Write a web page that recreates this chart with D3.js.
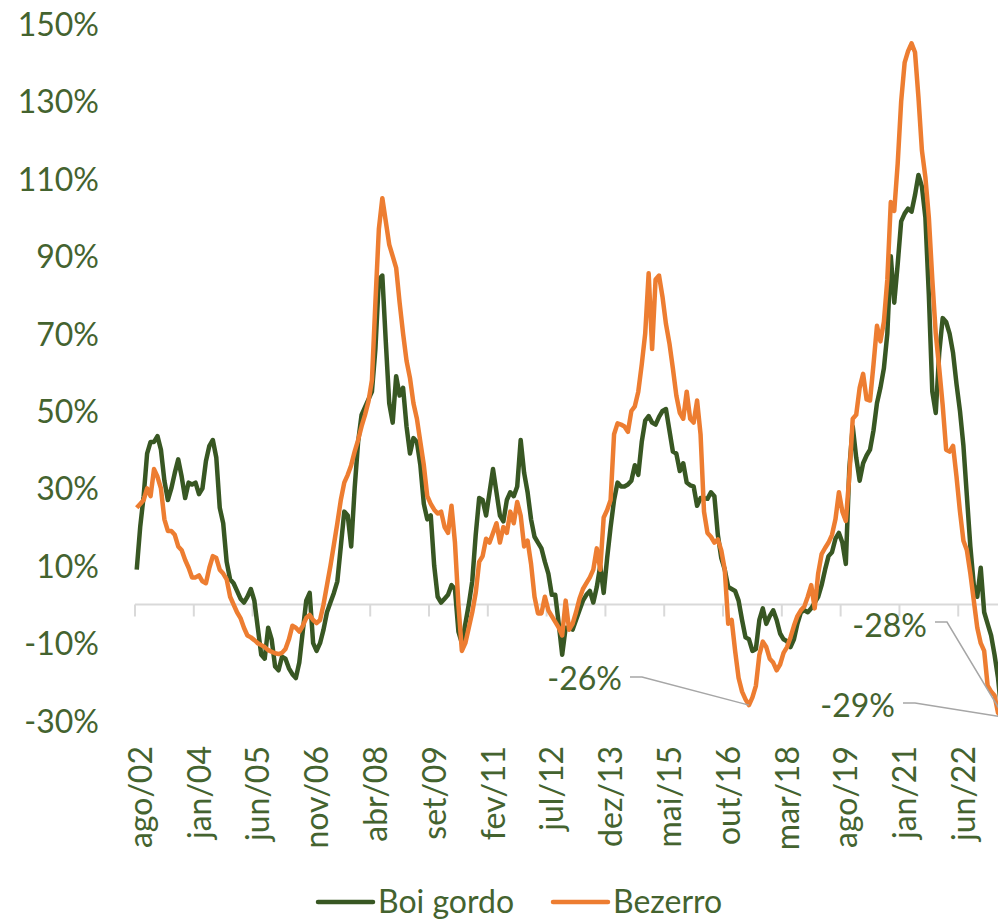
<!DOCTYPE html>
<html>
<head>
<meta charset="utf-8">
<script src="https://cdn.jsdelivr.net/npm/d3@7"></script>
<style>
  body { margin: 0; background: #fff; }
  svg { display: block; font-family: Lato, "Open Sans", sans-serif; }
</style>
</head>
<body>
<div id="chart"></div>
<script>
// monthly % change, ago/02 .. jun/23
const monthNames = ['jan','fev','mar','abr','mai','jun','jul','ago','set','out','nov','dez'];
const tickLabels = ['ago/02','jan/04','jun/05','nov/06','abr/08','set/09','fev/11','jul/12',
                    'dez/13','mai/15','out/16','mar/18','ago/19','jan/21','jun/22'];
const yTicks = [-30, -10, 10, 30, 50, 70, 90, 110, 130, 150];

const boiGordo = [
  9, 20, 28, 39, 42, 42, 43.5, 40, 32, 27,
  30, 34, 37.5, 33, 27.5, 31.5, 31, 31.5, 28.5, 30,
  37, 41, 42.5, 38, 25, 21, 11, 6.5, 5.5, 3.5,
  1.5, 0.5, 2, 4, 1, -6, -13, -14, -6, -9,
  -16, -17, -13.5, -14, -16.5, -18, -19, -15, -7, 1,
  3, -10, -12, -10, -6.5, -2, 0.5, 3, 6, 15,
  24, 23, 15, 30, 42, 49, 51, 53, 55, 66,
  84, 85, 68, 52, 47, 59, 54, 56, 46, 39,
  43, 42, 36, 26, 22, 23, 10, 2, 0.5, 1.5,
  2.5, 5, 4, -7, -10, -5, 0, 6, 18, 27.5,
  27, 23, 29, 35, 29, 23, 21.5, 27, 29, 28,
  30.5, 42.5, 34, 29, 22, 17.5, 16, 14.5, 11, 8,
  2.5, 2.5, -5, -13, -6, -6, -6.5, -4, -1.5, 1,
  2.5, 3.5, 0.5, 4.5, 10, 3, 12, 20, 27, 31.5,
  30.5, 30.5, 31, 32, 36, 33.5, 42, 47.5, 48.7, 47,
  46.5, 48.5, 50, 50.5, 45, 39.5, 39, 34.5, 36.5, 31.5,
  30.8, 30.5, 25.5, 27.5, 27.5, 27.3, 29, 28, 18, 12,
  9, 4.5, 4, 3.5, 1, -4, -8.5, -9, -12, -11.5,
  -4, -1, -5, -3, -1.5, -4, -7.5, -9, -9.5, -11,
  -9, -5, -2, -1.5, -2, -1, 0.5, 2, 5, 9,
  12.5, 13.5, 17, 18.5, 16, 10.5, 35, 46, 38, 32,
  36.5, 38.5, 40, 45, 52, 56, 61, 70, 90, 78,
  88, 99, 101, 102.3, 101.5, 105.8, 111, 108, 100, 80,
  55, 49.5, 65, 74, 73, 70, 65, 57, 50, 41,
  28, 15, 5, 2, 9.5, -2, -5, -8, -13, -19,
  -28
];

const bezerro = [
  25, 26, 27, 30, 28, 35, 33, 30, 22, 19,
  19, 18, 15, 14, 11.5, 9.5, 7, 7, 7.5, 6,
  5.5, 9.5, 12.5, 12, 9, 8, 6.5, 2, 0, -2,
  -3.5, -6, -8, -8.5, -9.2, -10, -10.5, -11, -11.8, -12.2,
  -12.6, -12.8, -12.5, -11.5, -9, -5.5, -6, -7, -5.5, -3.5,
  -2.7, -4, -4.8, -4, 0, 5, 10, 15.5, 21, 27,
  31.5, 33.5, 36, 39.5, 42.5, 46, 49, 52.5, 58, 78,
  97, 105, 99, 93, 90, 87, 78, 70, 63, 58.5,
  52, 48, 42, 36, 28, 26, 24.5, 23.5, 24, 20,
  18.5, 25.5, 16, 0, -12, -10, -6, -2, 3, 11,
  12.5, 17, 16, 18.5, 21, 16, 20, 18.5, 24, 21,
  26.5, 23, 15, 16.5, 10.5, 2, -2.3, -2.3, 2, -1.5,
  -3, -4.5, -6, -8, 1, -6.5, -5, -2, 1.5, 4,
  5.5, 7, 9, 14.5, 9, 22.5, 24.4, 27, 44, 46.8,
  46.5, 46, 44.6, 50, 51.2, 55, 62, 70, 85.6, 66,
  84, 85, 79.5, 72.5, 67.5, 61, 54, 49.5, 48, 55,
  48, 47, 52.7, 44, 24, 18.5, 17.5, 16, 16.8, 14,
  9, -5, -4, -12, -19, -22.5, -24.5, -26, -24, -21,
  -13, -9.6, -11, -14, -15, -17, -15.5, -12.5, -11, -8.5,
  -5.5, -3, -1.5, -0.5, 2, 5, -1, 8, 13, 14.6,
  16, 18, 22, 29, 24, 21.6, 33, 48, 49, 56,
  59.6, 53, 52.7, 62, 72, 68, 73, 84, 104, 101.7,
  114, 130, 140, 143, 145, 142.7, 131, 117.3, 110.4, 100,
  84, 70, 61, 51.5, 40, 39.5, 41, 33, 24, 16.5,
  14, 8, 1, -6, -10, -12, -21, -22.5, -23.5, -28,
  -29
];

// data labels: [series, month index, text, text x, text baseline y]
const annotations = [
  {series: 'bezerro', idx: 177, text: '-26%', tx: 622, ty: 690, lx: 630, ly: 677},
  {series: 'boi', idx: 250, text: '-28%', tx: 927, ty: 637, lx: 935, ly: 622},
  {series: 'bezerro', idx: 250, text: '-29%', tx: 895, ty: 717, lx: 903, ly: 703}
];

// category labels, ago/02 onwards
const months = [];
for (let k = 0; k < boiGordo.length; k++) {
    let m = (7 + k) % 12, yr = 2002 + Math.floor((7 + k) / 12);
    months.push(monthNames[m] + '/' + String(yr % 100).padStart(2, '0'));
}

const width = 998, height = 922;
const textColor = '#44632f', green = '#385723', orange = '#ed7d31';

const svg = d3.select('#chart').append('svg')
    .attr('width', width)
    .attr('height', height);

svg.append('rect').attr('width', width).attr('height', height).attr('fill', '#fff');

const x = d3.scaleBand()
    .domain(months)
    .range([135, 135 + 3.459 * months.length]);

const y = d3.scaleLinear()
    .domain([-30, 150])
    .range([720.6, 24]);

const xc = m => x(m) + x.bandwidth() / 2;

// y axis labels
const yAxis = d3.axisLeft(y)
    .tickValues(yTicks)
    .tickSize(0)
    .tickPadding(36)
    .tickFormat(d => d + '%');

svg.append('g')
    .attr('class', 'y axis')
    .attr('transform', 'translate(135,0)')
    .call(yAxis)
    .call(g => g.select('.domain').remove())
    .selectAll('text')
    .attr('fill', textColor)
    .style('font-size', '32px')
    .style('font-family', 'Lato, sans-serif')
    .attr('dy', '0.36em');

// zero line (category axis)
svg.append('line')
    .attr('x1', 135).attr('x2', x.range()[1])
    .attr('y1', y(0)).attr('y2', y(0))
    .attr('stroke', '#d9d9d9')
    .attr('stroke-width', 2);

// tick marks every 17 months, labels on the category
const tickMonths = months.filter((m, i) => i % 17 == 0);
svg.append('g')
    .selectAll('line')
    .data(tickMonths)
  .enter().append('line')
    .attr('x1', d => x(d)).attr('x2', d => x(d))
    .attr('y1', y(0)).attr('y2', y(0) + 12)
    .attr('stroke', '#d9d9d9')
    .attr('stroke-width', 2);

svg.append('g')
    .selectAll('text')
    .data(tickLabels)
  .enter().append('text')
    .attr('transform', d => 'translate(' + xc(d) + ',746) rotate(-90)')
    .attr('dy', '0.47em')
    .style('text-anchor', 'end')
    .style('font-size', '32px')
    .attr('fill', textColor)
    .text(d => d);

// lines
const line = d3.line()
    .x((d, i) => xc(months[i]))
    .y(d => y(d));

const seriesList = [
    {key: 'boi', name: 'Boi gordo', values: boiGordo, color: green},
    {key: 'bezerro', name: 'Bezerro', values: bezerro, color: orange}
];

seriesList.forEach(s => {
    svg.append('path')
        .datum(s.values)
        .attr('fill', 'none')
        .attr('stroke', s.color)
        .attr('stroke-width', 4.5)
        .attr('stroke-linejoin', 'round')
        .attr('d', line);
});

// data labels with leader lines
annotations.forEach(a => {
    let vals = a.series == 'boi' ? boiGordo : bezerro;
    let px = xc(months[a.idx]), py = y(vals[a.idx]);
    svg.append('polyline')
        .attr('points', [[a.lx, a.ly], [a.lx + 12, a.ly], [px, py]].map(p => p.join(',')).join(' '))
        .attr('fill', 'none')
        .attr('stroke', '#a6a6a6')
        .attr('stroke-width', 1.5);
    svg.append('text')
        .attr('x', a.tx)
        .attr('y', a.ty)
        .style('text-anchor', 'end')
        .style('font-size', '32px')
        .attr('fill', textColor)
        .text(a.text);
});

// legend
const legendPos = [318, 553];
const legend = svg.selectAll('.legend')
    .data(seriesList)
  .enter().append('g')
    .attr('class', 'legend')
    .attr('transform', (d, i) => 'translate(' + legendPos[i] + ',902)');

legend.append('line')
    .attr('x1', 0).attr('x2', 55)
    .attr('stroke', d => d.color)
    .attr('stroke-width', 4.5)
    .attr('stroke-linecap', 'round');

legend.append('text')
    .attr('x', 60)
    .attr('y', 11)
    .style('font-size', '32px')
    .attr('fill', textColor)
    .text(d => d.name);
</script>
</body>
</html>
